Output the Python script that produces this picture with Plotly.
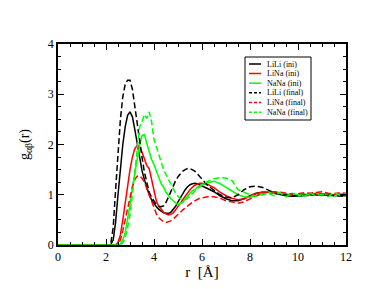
import plotly.graph_objects as go

# r grid (Å): 0, then 2.0..6.0 step 0.1, then 6.25..12 step 0.25
r = [0.0] + [round(2.0 + 0.1 * i, 2) for i in range(41)] + [round(6.25 + 0.25 * i, 2) for i in range(24)]

# ---- g(r) values ----
lili_ini = [0.0,
    0.0, 0.0, 0.01, 0.1, 0.45, 1.0, 1.55, 2.0, 2.35, 2.58,
    2.65, 2.55, 2.3, 2.0, 1.72, 1.48, 1.3, 1.15, 1.0, 0.9,
    0.82, 0.76, 0.71, 0.67, 0.64, 0.63, 0.63, 0.65, 0.7, 0.77,
    0.86, 0.95, 1.03, 1.1, 1.16, 1.2, 1.22, 1.23, 1.22, 1.2,
    1.18,
    1.12, 1.06, 0.98, 0.92, 0.88, 0.88, 0.92, 0.98, 1.03, 1.05, 1.05, 1.03,
    1.0, 0.98, 0.97, 0.97, 0.98, 0.99, 1.0, 1.0, 0.99, 0.98, 0.98, 0.98]

lina_ini = [0.0,
    0.0, 0.0, 0.0, 0.0, 0.0, 0.05, 0.2, 0.5, 0.85, 1.2,
    1.5, 1.75, 1.92, 1.98, 1.95, 1.85, 1.72, 1.58, 1.52, 1.3,
    1.05, 0.87, 0.77, 0.7, 0.65, 0.62, 0.6, 0.61, 0.64, 0.7,
    0.76, 0.83, 0.9, 0.97, 1.04, 1.1, 1.15, 1.19, 1.21, 1.23,
    1.23,
    1.2, 1.14, 1.05, 0.98, 0.93, 0.9, 0.92, 0.97, 1.02, 1.05, 1.06, 1.05,
    1.03, 1.0, 0.99, 0.99, 1.0, 1.01, 1.02, 1.02, 1.01, 1.0, 1.01, 1.01]

nana_ini = [0.0,
    0.0, 0.0, 0.0, 0.0, 0.0, 0.0, 0.02, 0.1, 0.25, 0.5,
    0.8, 1.15, 1.45, 1.72, 1.98, 2.18, 2.2, 2.02, 1.85, 1.7,
    1.6, 1.48, 1.36, 1.22, 1.15, 1.05, 0.99, 0.92, 0.88, 0.84,
    0.8, 0.83, 0.85, 0.92, 0.97, 1.02, 1.08, 1.1, 1.15, 1.17,
    1.2,
    1.24, 1.27, 1.22, 1.15, 1.08, 1.0, 0.96, 0.95, 0.98, 1.02, 1.06, 1.03,
    1.05, 0.99, 1.03, 0.97, 1.02, 0.99, 1.04, 0.98, 1.03, 0.97, 1.02, 1.0]

lili_fin = [0.0,
    0.0, 0.0, 0.03, 0.35, 1.1, 1.9, 2.5, 2.95, 3.2, 3.28,
    3.28, 3.1, 2.75, 2.35, 2.05, 1.75, 1.45, 1.22, 1.05, 0.95,
    0.87, 0.8, 0.77, 0.76, 0.78, 0.85, 0.95, 1.07, 1.18, 1.28,
    1.36, 1.42, 1.47, 1.5, 1.52, 1.52, 1.5, 1.47, 1.42, 1.37,
    1.3,
    1.18, 1.09, 1.0, 0.95, 0.94, 1.0, 1.1, 1.16, 1.17, 1.15, 1.1, 1.04,
    1.01, 0.99, 0.98, 0.98, 0.99, 1.0, 1.01, 1.0, 0.99, 0.99, 0.98, 0.97]

lina_fin = [0.0,
    0.0, 0.0, 0.0, 0.0, 0.0, 0.02, 0.1, 0.28, 0.5, 0.75,
    0.98, 1.16, 1.3, 1.37, 1.38, 1.33, 1.25, 1.12, 0.98, 0.84,
    0.72, 0.62, 0.54, 0.49, 0.46, 0.45, 0.46, 0.48, 0.52, 0.56,
    0.6, 0.65, 0.7, 0.74, 0.78, 0.82, 0.85, 0.88, 0.91, 0.93,
    0.94,
    0.96, 0.96, 0.93, 0.88, 0.85, 0.83, 0.86, 0.92, 0.98, 1.03, 1.05, 1.06,
    1.05, 1.03, 1.01, 1.02, 1.04, 1.03, 1.05, 1.06, 1.03, 1.02, 1.04, 1.03]

nana_fin = [0.0,
    0.0, 0.0, 0.0, 0.0, 0.0, 0.0, 0.0, 0.05, 0.15, 0.35,
    0.6, 1.0, 1.4, 1.9, 2.35, 2.45, 2.6, 2.52, 2.65, 2.45,
    2.1, 1.95, 1.8, 1.65, 1.5, 1.4, 1.3, 1.2, 1.1, 1.03,
    0.97, 0.92, 0.9, 0.9, 0.93, 0.97, 1.02, 1.07, 1.12, 1.16,
    1.2,
    1.27, 1.32, 1.34, 1.33, 1.28, 1.1, 1.05, 1.0, 0.97, 1.0, 1.03, 0.98,
    1.04, 0.96, 1.02, 1.0, 0.97, 1.03, 0.98, 1.01, 0.96, 1.04, 0.99, 1.02]

names = ["LiLi (ini)", "LiNa (ini)", "NaNa (ini)", "LiLi (final)", "LiNa (final)", "NaNa (final)"]
values = [lili_ini, lina_ini, nana_ini, lili_fin, lina_fin, nana_fin]
colors = ["#000000", "#ff0000", "#00ff00", "#000000", "#ff0000", "#00ff00"]
dashes = ["solid", "solid", "solid", "6px,3px", "6px,3px", "6px,3px"]

x_ticks = [0, 2, 4, 6, 8, 10, 12]
y_ticks = [0, 1, 2, 3, 4]

fig = go.Figure()
for name, g, col, dash in zip(names, values, colors, dashes):
    fig.add_trace(go.Scatter(x=r, y=g, mode="lines", name=name, showlegend=False,
                             line=dict(color=col, width=1.5, dash=dash)))

serif = "Liberation Serif, Times New Roman, serif"
axis_common = dict(
    showgrid=False, zeroline=False, showline=True, linecolor="black", linewidth=1.5,
    mirror="allticks", ticks="inside", ticklen=6, tickwidth=1, tickcolor="black",
    tickfont=dict(family=serif, size=12, color="black"), automargin=False,
)
fig.update_xaxes(range=[0, 12], tickvals=x_ticks, ticktext=[str(v) for v in x_ticks],
                 minor=dict(dtick=0.5, ticks="inside", ticklen=3, tickcolor="black", showgrid=False),
                 title=dict(text="r  [Å]", font=dict(family=serif, size=15, color="black"), standoff=3),
                 **axis_common)
fig.update_yaxes(range=[0, 4], tickvals=y_ticks, ticktext=[str(v) for v in y_ticks],
                 minor=dict(dtick=0.25, ticks="inside", ticklen=3, tickcolor="black", showgrid=False),
                 title=dict(text="g<sub>αβ</sub>(r)", font=dict(family=serif, size=14, color="black"), standoff=15),
                 **axis_common)

# page offset: the browser body has an 8px margin, so plot-area targets in screenshot px
OFF = 8
W, H = 374 - OFF, 289 - OFF
L, R, T, B = 58, 346, 44, 245   # plot area in screenshot pixels

def px(xp):
    return (xp - L) / (R - L)
def py(yp):
    return (B - yp) / (B - T)

# ---- hand-drawn legend box (Grace style), placed in paper coordinates ----
shapes = [dict(type="rect", xref="paper", yref="paper",
               x0=px(245), x1=px(311), y0=py(120), y1=py(57),
               line=dict(color="black", width=1), fillcolor="white", layer="above")]
annotations = []
row_y = [64, 73.5, 83.2, 92.8, 102.5, 112.2]
for name, col, dash, yy in zip(names, colors, dashes, row_y):
    shapes.append(dict(type="line", xref="paper", yref="paper",
                       x0=px(249), x1=px(261), y0=py(yy), y1=py(yy),
                       line=dict(color=col, width=1.5, dash=("solid" if dash == "solid" else "3px,2px")),
                       layer="above"))
    annotations.append(dict(x=px(265), y=py(yy), xref="paper", yref="paper",
                            text=name, showarrow=False, xanchor="left", yanchor="middle",
                            font=dict(family=serif, size=8, color="black")))

fig.update_layout(
    width=W, height=H,
    margin=dict(l=L - OFF, r=374 - R, t=T - OFF, b=289 - B),
    paper_bgcolor="white", plot_bgcolor="white",
    shapes=shapes, annotations=annotations, showlegend=False,
)

fig.write_html("out.html")
